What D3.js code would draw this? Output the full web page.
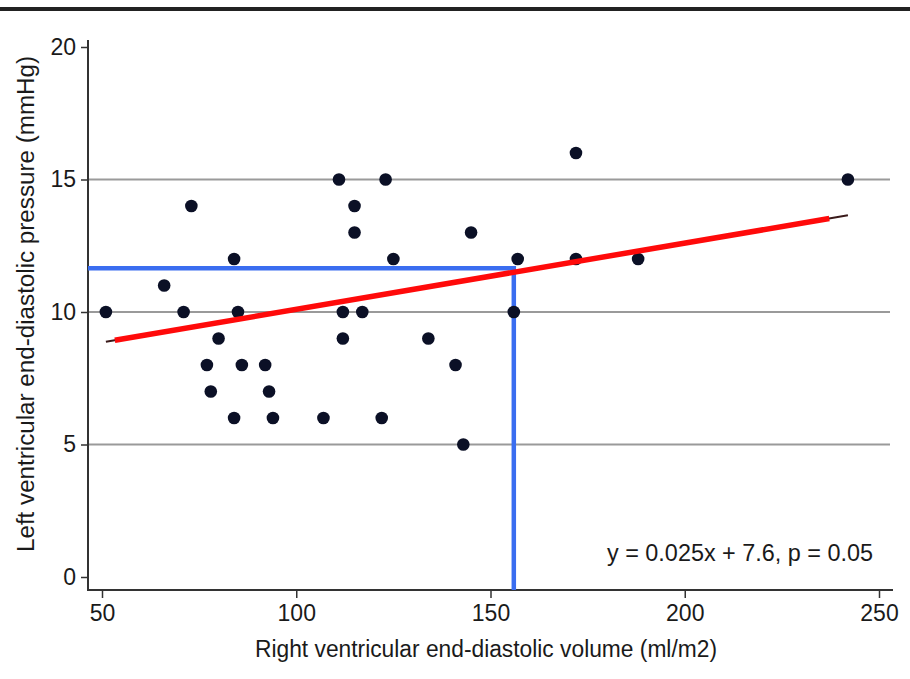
<!DOCTYPE html>
<html>
<head>
<meta charset="utf-8">
<script src="https://cdn.jsdelivr.net/npm/d3@7"></script>
<style>
  body { margin: 0; background: #fff; }
  text { font-family: "Liberation Sans", Arial, sans-serif; }
</style>
</head>
<body>
<svg width="910" height="679"></svg>
<script>
// data
var rvVolume = [51, 66, 71, 73, 77, 78, 80, 84, 85, 84, 86, 92, 93, 94, 107, 111, 112, 112,
                115, 115, 117, 122, 123, 125, 134, 141, 143, 145, 156, 157, 172, 172, 188, 242];
var lvPressure = [10, 11, 10, 14, 8, 7, 9, 12, 10, 6, 8, 8, 7, 6, 6, 15, 10, 9,
                  14, 13, 10, 6, 15, 12, 9, 8, 5, 13, 10, 12, 16, 12, 12, 15];
var xTicks = [50, 100, 150, 200, 250];
var yTicks = [0, 5, 10, 15, 20];
var gridValues = [5, 10, 15];
var slope = 0.025, intercept = 7.6;
var fitRange = [51, 242];     // thin dark fit line
var redRange = [53.3, 237.2]; // red overlay
var marker = {x: 156, y: 11.65};

var svg = d3.select("svg");

var x = d3.scaleLinear().domain([50, 250]).range([102, 879]);
var y = d3.scaleLinear().domain([0, 20]).range([577, 47]);

var plotLeft = 88, plotRight = 893, plotBottom = 590, plotTop = 40;
var ink = "#1a1a1a";

// top frame bar
svg.append("rect").attr("x", 0).attr("y", 7).attr("width", 910).attr("height", 4).attr("fill", "#222");

// gridlines
svg.selectAll(".grid").data(gridValues).enter().append("line")
  .attr("x1", plotLeft).attr("x2", plotRight - 3)
  .attr("y1", d => y(d)).attr("y2", d => y(d))
  .attr("stroke", "#9a9a9a").attr("stroke-width", 2);

// axes
var yAxis = d3.axisLeft(y).tickValues(yTicks).tickSize(7).tickPadding(5);
var xAxis = d3.axisBottom(x).tickValues(xTicks).tickSize(8).tickPadding(7);

var gy = svg.append("g").attr("transform", "translate(" + plotLeft + ",0)").call(yAxis);
var gx = svg.append("g").attr("transform", "translate(0," + plotBottom + ")").call(xAxis);
gy.select(".domain").remove();
gx.select(".domain").remove();
[gx, gy].forEach(g => {
  g.selectAll("line").attr("stroke", "#333").attr("stroke-width", 1.5);
  g.selectAll("text").attr("font-size", 23).attr("fill", ink)
    .attr("font-family", "Liberation Sans, Arial, sans-serif");
});
svg.append("line").attr("x1", plotLeft).attr("x2", plotLeft).attr("y1", plotTop).attr("y2", plotBottom + 1)
  .attr("stroke", "#333").attr("stroke-width", 2);
svg.append("line").attr("x1", plotLeft).attr("x2", plotRight).attr("y1", plotBottom).attr("y2", plotBottom)
  .attr("stroke", "#333").attr("stroke-width", 2);

// thin fit line
svg.append("line")
  .attr("x1", x(fitRange[0])).attr("y1", y(slope * fitRange[0] + intercept))
  .attr("x2", x(fitRange[1])).attr("y2", y(slope * fitRange[1] + intercept))
  .attr("stroke", "#3a1a1a").attr("stroke-width", 2);

// blue guide lines
svg.append("path")
  .attr("d", "M" + plotLeft + "," + y(marker.y) + "H" + x(marker.x) + "V" + plotBottom)
  .attr("fill", "none").attr("stroke", "#3a6df0").attr("stroke-width", 4.5);

// points
svg.selectAll(".pt").data(rvVolume).enter().append("circle")
  .attr("cx", d => x(d))
  .attr("cy", (d, i) => y(lvPressure[i]))
  .attr("r", 6.3)
  .attr("fill", "#0b1026");

// red fit overlay
svg.append("line")
  .attr("x1", x(redRange[0])).attr("y1", y(slope * redRange[0] + intercept))
  .attr("x2", x(redRange[1])).attr("y2", y(slope * redRange[1] + intercept))
  .attr("stroke", "#ff0a0a").attr("stroke-width", 5.5);

// annotation
svg.append("text").attr("x", 607).attr("y", 561)
  .attr("font-size", 23).attr("fill", ink)
  .attr("textLength", 266).attr("lengthAdjust", "spacingAndGlyphs")
  .text("y = 0.025x + 7.6, p = 0.05");

// axis titles
svg.append("text").attr("x", 255).attr("y", 657)
  .attr("font-size", 23).attr("fill", ink)
  .attr("textLength", 462).attr("lengthAdjust", "spacingAndGlyphs")
  .text("Right ventricular end-diastolic volume (ml/m2)");
svg.append("text").attr("transform", "translate(34,552) rotate(-90)")
  .attr("font-size", 23).attr("fill", ink)
  .attr("textLength", 496).attr("lengthAdjust", "spacingAndGlyphs")
  .text("Left ventricular end-diastolic pressure (mmHg)");
</script>
</body>
</html>
